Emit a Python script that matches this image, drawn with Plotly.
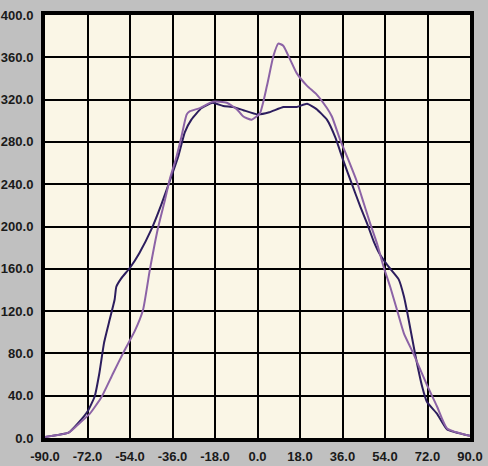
import plotly.graph_objects as go

dark_x = [-90, -80, -76, -72, -69, -67, -65, -62.6, -60.5, -59.8, -57.7, -54, -50, -45, -40.7, -37, -33.6, -30.8, -28, -23.7, -19, -14.5, -10.3, -6, 0, 5, 11, 16.6, 21, 25, 29.4, 33, 36.4, 40, 43.5, 46.4, 49.2, 52, 55.5, 59.8, 62, 63.5, 66.8, 69.7, 71.8, 76, 80.3, 90]
dark_y = [1, 5, 14, 25, 39, 61, 90, 112, 131, 143, 151, 161, 175, 197, 221, 244, 266, 289, 301, 312, 317, 314, 313, 310, 306, 308, 313, 313, 316, 311, 301, 284, 262, 240, 219, 203, 186, 173, 162, 150, 134, 118, 79, 49, 34, 23, 8, 2]

purple_x = [-90, -80, -75.4, -71, -66, -61.2, -56.3, -52, -48.5, -45.6, -42, -39.2, -37, -34.3, -32.2, -30, -28.6, -24.4, -19, -13, -8.8, -6, -2.5, 1, 4, 6.7, 8.8, 10.9, 13.8, 16.6, 21, 25, 29.4, 31.5, 35, 38.5, 42, 45, 47.7, 50.6, 53.4, 56.2, 59.1, 62, 66, 71.8, 76, 80.3, 90]
purple_y = [1, 5, 14, 23, 39, 61, 83, 101, 121, 159, 200, 225, 246, 266, 285, 306, 309, 312, 318, 317, 311, 304, 301, 307, 333, 361, 373, 371, 358, 345, 333, 325, 312, 304, 282, 263, 243, 222, 203, 184, 162, 143, 121, 99, 80, 50, 30, 9, 2]

x_ticks = [-90, -72, -54, -36, -18, 0, 18, 36, 54, 72, 90]
y_ticks = [0, 40, 80, 120, 160, 200, 240, 280, 320, 360, 400]

fig = go.Figure()
fig.add_trace(go.Scatter(x=dark_x, y=dark_y, mode="lines",
                         line=dict(color="#2c1d5e", width=2, shape="spline", smoothing=0.4),
                         showlegend=False))
fig.add_trace(go.Scatter(x=purple_x, y=purple_y, mode="lines",
                         line=dict(color="#8c63a6", width=2, shape="spline", smoothing=0.5),
                         showlegend=False))

font = dict(family="Liberation Sans, Arial, sans-serif", size=13, color="#1a1a1a", weight="bold")
fig.update_xaxes(range=[-90, 90], tickvals=x_ticks, ticktext=[f"{v:.1f}" for v in x_ticks],
                 showgrid=True, gridcolor="#000000", gridwidth=2,
                 showline=True, linecolor="#000000", linewidth=4, mirror=True,
                 zeroline=False, ticks="", tickfont=font, ticklabelstandoff=3,
                 automargin=False)
fig.update_yaxes(range=[0, 400], tickvals=y_ticks, ticktext=[f"{v:.1f}" for v in y_ticks],
                 showgrid=True, gridcolor="#000000", gridwidth=2,
                 showline=True, linecolor="#000000", linewidth=4, mirror=True,
                 zeroline=False, ticks="", tickfont=font, ticklabelstandoff=5,
                 automargin=False)
fig.update_layout(width=488, height=466,
                  margin=dict(l=45, r=18, t=15, b=28, autoexpand=False),
                  paper_bgcolor="#c0c0c0", plot_bgcolor="#faf6e6")
fig.write_html("out.html", config={"displayModeBar": False},
               post_script="document.body.style.margin='0';document.body.style.background='#c0c0c0';document.body.style.overflow='hidden';")
